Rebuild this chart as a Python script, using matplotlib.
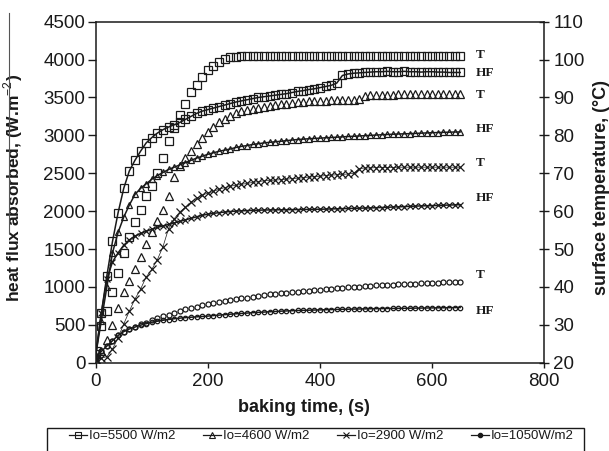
import matplotlib.pyplot as plt
from matplotlib.lines import Line2D
from matplotlib.patches import Rectangle

plt.rcParams['font.family'] = ['Liberation Sans', 'DejaVu Sans']
plt.rcParams['mathtext.fontset'] = 'custom'
plt.rcParams['mathtext.rm'] = 'Liberation Sans'
plt.rcParams['mathtext.bf'] = 'Liberation Sans:bold'

# baking time grid, s
time_s = list(range(0, 660, 10))

# surface temperature, degC (right axis)
t_5500 = [23.0, 29.6, 33.6, 38.6, 43.6, 49.0, 53.2, 57.2, 60.4, 64.0,
          66.6, 70.0, 74.0, 78.4, 82.0, 85.4, 88.4, 91.4, 93.4, 95.4,
          97.2, 98.4, 99.3, 100.1, 100.6, 100.8, 101.0, 101.0, 101.0, 101.0,
          101.0, 101.0, 101.0, 101.0, 101.0, 101.0, 101.0, 101.0, 101.0, 101.0,
          101.0, 101.0, 101.0, 101.0, 101.0, 101.0, 101.0, 101.0, 101.0, 101.0,
          101.0, 101.0, 101.0, 101.0, 101.0, 101.0, 101.0, 101.0, 101.0, 101.0,
          101.0, 101.0, 101.0, 101.0, 101.0, 101.0]
t_4600 = [20.8, 23.0, 26.0, 30.0, 34.4, 38.6, 41.6, 44.6, 47.8, 51.2,
          54.6, 57.4, 60.4, 64.0, 69.0, 72.0, 74.0, 76.0, 77.8, 79.4,
          80.8, 82.2, 83.4, 84.4, 85.2, 85.8, 86.3, 86.7, 87.0, 87.3,
          87.6, 87.8, 88.0, 88.2, 88.4, 88.6, 88.8, 88.9, 89.0, 89.1,
          89.2, 89.2, 89.3, 89.3, 89.4, 89.4, 89.4, 89.6, 90.3, 90.6,
          90.6, 90.7, 90.7, 90.7, 90.8, 90.8, 90.8, 90.8, 90.8, 90.8,
          90.9, 90.9, 90.9, 90.9, 90.9, 90.9]
t_2900 = [20.8, 21.2, 21.6, 23.6, 26.6, 30.2, 33.6, 36.8, 39.4, 42.6,
          44.6, 47.2, 50.6, 55.4, 58.0, 59.8, 61.0, 62.4, 63.4, 64.2,
          64.8, 65.2, 65.8, 66.2, 66.6, 66.8, 67.1, 67.3, 67.6, 67.8,
          68.0, 68.1, 68.2, 68.3, 68.4, 68.6, 68.7, 68.8, 69.0, 69.1,
          69.2, 69.4, 69.5, 69.6, 69.7, 69.8, 70.0, 71.2, 71.4, 71.4,
          71.5, 71.5, 71.5, 71.5, 71.6, 71.6, 71.6, 71.6, 71.6, 71.6,
          71.6, 71.6, 71.6, 71.6, 71.6, 71.6]
t_1050 = [21.2, 23.0, 24.4, 25.8, 27.2, 28.2, 28.9, 29.5, 30.1, 30.6,
          31.2, 31.7, 32.2, 32.7, 33.2, 33.7, 34.1, 34.5, 34.8, 35.2,
          35.4, 35.7, 36.0, 36.2, 36.5, 36.8, 37.0, 37.2, 37.4, 37.6,
          37.8, 38.0, 38.1, 38.3, 38.4, 38.6, 38.7, 38.9, 39.0, 39.2,
          39.3, 39.4, 39.5, 39.6, 39.8, 39.9, 40.0, 40.1, 40.2, 40.3,
          40.4, 40.5, 40.6, 40.6, 40.7, 40.8, 40.9, 40.9, 41.0, 41.0,
          41.1, 41.1, 41.2, 41.2, 41.2, 41.3]

# heat flux absorbed, W/m2 (left axis)
hf_5500 = [120, 650, 1150, 1600, 1980, 2300, 2530, 2670, 2790, 2900,
           2970, 3030, 3075, 3110, 3140, 3170, 3210, 3250, 3290, 3320,
           3340, 3360, 3380, 3400, 3420, 3440, 3455, 3470, 3485, 3500,
           3510, 3520, 3530, 3540, 3550, 3565, 3580, 3590, 3605, 3615,
           3630, 3645, 3660, 3690, 3790, 3810, 3820, 3825, 3830, 3835,
           3840, 3840, 3845, 3840, 3840, 3845, 3840, 3840, 3835, 3840,
           3840, 3835, 3835, 3830, 3830, 3830]
hf_4600 = [100, 550, 1000, 1450, 1720, 1920, 2080, 2220, 2300, 2360,
           2420, 2470, 2510, 2550, 2580, 2610, 2640, 2670, 2700, 2725,
           2750, 2770, 2790, 2805, 2820, 2840, 2855, 2865, 2880, 2890,
           2900, 2908, 2915, 2922, 2930, 2938, 2945, 2950, 2955, 2960,
           2963, 2968, 2972, 2976, 2980, 2985, 2988, 2992, 2996, 3000,
           3004, 3008, 3012, 3015, 3018, 3020, 3023, 3026, 3029, 3032,
           3035, 3037, 3040, 3042, 3044, 3045]
hf_2900 = [80, 650, 1100, 1330, 1450, 1550, 1620, 1670, 1705, 1735,
           1760, 1785, 1805, 1825, 1845, 1865, 1885, 1905, 1925, 1945,
           1960, 1970, 1980, 1988, 1995, 2000, 2004, 2007, 2010, 2012,
           2015, 2016, 2017, 2018, 2019, 2020, 2021, 2022, 2023, 2024,
           2025, 2027, 2029, 2031, 2033, 2035, 2037, 2039, 2041, 2043,
           2045, 2048, 2051, 2054, 2057, 2060, 2063, 2066, 2069, 2071,
           2073, 2075, 2078, 2080, 2083, 2085]
hf_1050 = [60, 150, 220, 290, 360, 410, 445, 470, 495, 515,
           535, 548, 560, 570, 580, 588, 595, 600, 605, 610,
           615, 622, 628, 634, 640, 645, 650, 655, 660, 664,
           668, 672, 676, 680, 683, 686, 689, 691, 693, 695,
           697, 699, 701, 703, 705, 706, 708, 709, 710, 712,
           713, 714, 715, 716, 717, 718, 719, 720, 721, 722,
           723, 724, 725, 726, 727, 728]

legend_labels = ['Io=5500 W/m2', 'Io=4600 W/m2', 'Io=2900 W/m2', 'Io=1050W/m2']
tag_text = ['T', 'HF', 'T', 'HF', 'T', 'HF', 'T', 'HF']
tag_y = [4059, 3822, 3532, 3083, 2635, 2173, 1157, 682]

ink = '#1a1a1a'

fig = plt.figure(figsize=(6.09, 4.51), dpi=100)
ax = fig.add_axes([0.1571, 0.1958, 0.7366, 0.7561])
ax2 = ax.twinx()

# temperatures: open markers (the 2900 set has a faint joining line)
ax2.plot(time_s, t_5500, ls='none', marker='s', ms=5.3, mfc='none', mec=ink, mew=0.9)
ax2.plot(time_s, t_4600, ls='none', marker='^', ms=5.8, mfc='none', mec=ink, mew=0.9)
ax2.plot(time_s, t_2900, color=ink, lw=0.5, marker='x', ms=5.2, mec=ink, mew=0.9)
ax2.plot(time_s, t_1050, ls='none', marker='o', ms=3.6, mfc='none', mec=ink, mew=0.9)

# heat flux: markers joined by a line
ax.plot(time_s, hf_5500, color=ink, lw=1.1, marker='s', ms=5.3, mfc='none', mec=ink, mew=0.9)
ax.plot(time_s, hf_4600, color=ink, lw=1.1, marker='^', ms=4.8, mfc='none', mec=ink, mew=0.9)
ax.plot(time_s, hf_2900, color=ink, lw=1.1, marker='x', ms=4.8, mec=ink, mew=0.9)
ax.plot(time_s, hf_1050, color=ink, lw=1.1, marker='o', ms=3.2, mfc='none', mec=ink, mew=0.9)

for txt, y in zip(tag_text, tag_y):
    ax.text(678, y, txt, ha='left', va='center', fontsize=9.5, fontweight='bold',
            family=['Liberation Serif', 'DejaVu Serif'], color=ink)

ax.set_xlim(0, 800)
ax.set_ylim(0, 4500)
ax.set_xticks([0, 200, 400, 600, 800])
ax.set_yticks(range(0, 4501, 500))
ax2.set_ylim(20, 110)
ax2.set_yticks(range(20, 111, 10))

ax.tick_params(axis='y', direction='out', length=6, width=1, pad=1.5, labelsize=13.5,
               color=ink, labelcolor=ink)
ax.tick_params(axis='x', direction='out', length=3.5, width=1, pad=4, labelsize=13.5,
               color=ink, labelcolor=ink)
ax2.tick_params(axis='y', direction='inout', length=7, width=1, pad=3, labelsize=13.5,
                color=ink, labelcolor=ink)

for side in ['left', 'bottom', 'top']:
    ax.spines[side].set_linewidth(1.1)
    ax.spines[side].set_color(ink)
    ax2.spines[side].set_visible(False)
ax.spines['right'].set_visible(False)
ax2.spines['right'].set_linewidth(1.1)
ax2.spines['right'].set_color(ink)

ax.set_xlabel('baking time, (s)', fontsize=13, fontweight='bold', color=ink)
ax.xaxis.set_label_coords(0.464, -0.106)
ax.set_ylabel(r'heat flux absorbed, (W.m$^{-2}$)', fontsize=12.5, fontweight='bold', color=ink)
ax.yaxis.set_label_coords(-0.158, 0.512)
ax2.set_ylabel('surface temperature, (°C)', fontsize=13, fontweight='bold', color=ink)
ax2.yaxis.set_label_coords(1.108, 0.514)

# legend below the plot, frame partly cut by the page edge
handles = [
    Line2D([], [], color=ink, lw=0.9, marker='s', ms=5, mfc='none', mec=ink, mew=0.8),
    Line2D([], [], color=ink, lw=0.9, marker='^', ms=5, mfc='none', mec=ink, mew=0.8),
    Line2D([], [], color=ink, lw=0.9, marker='x', ms=5, mec=ink, mew=0.8),
    Line2D([], [], color=ink, lw=0.9, marker='o', ms=3, mfc=ink, mec=ink),
]
fig.legend(handles, legend_labels, ncol=4, loc='center left',
           bbox_to_anchor=(62 / 609, 1 - 436 / 451), frameon=False, borderpad=0,
           fontsize=9.5, handlelength=1.36, handletextpad=0.15, columnspacing=2.1,
           numpoints=1, labelcolor=ink)
fig.patches.append(Rectangle((47 / 609, -0.05), 537 / 609, 0.05 + 1 - 428 / 451,
                             transform=fig.transFigure, fill=False, ec=ink, lw=1.0))

# stray rule at the left edge of the scan
fig.add_artist(Line2D([9 / 609, 9 / 609], [1 - 13 / 451, 1 - 233 / 451],
                      transform=fig.transFigure, color='#555555', lw=0.8))

fig.savefig('out.png', dpi=100)
